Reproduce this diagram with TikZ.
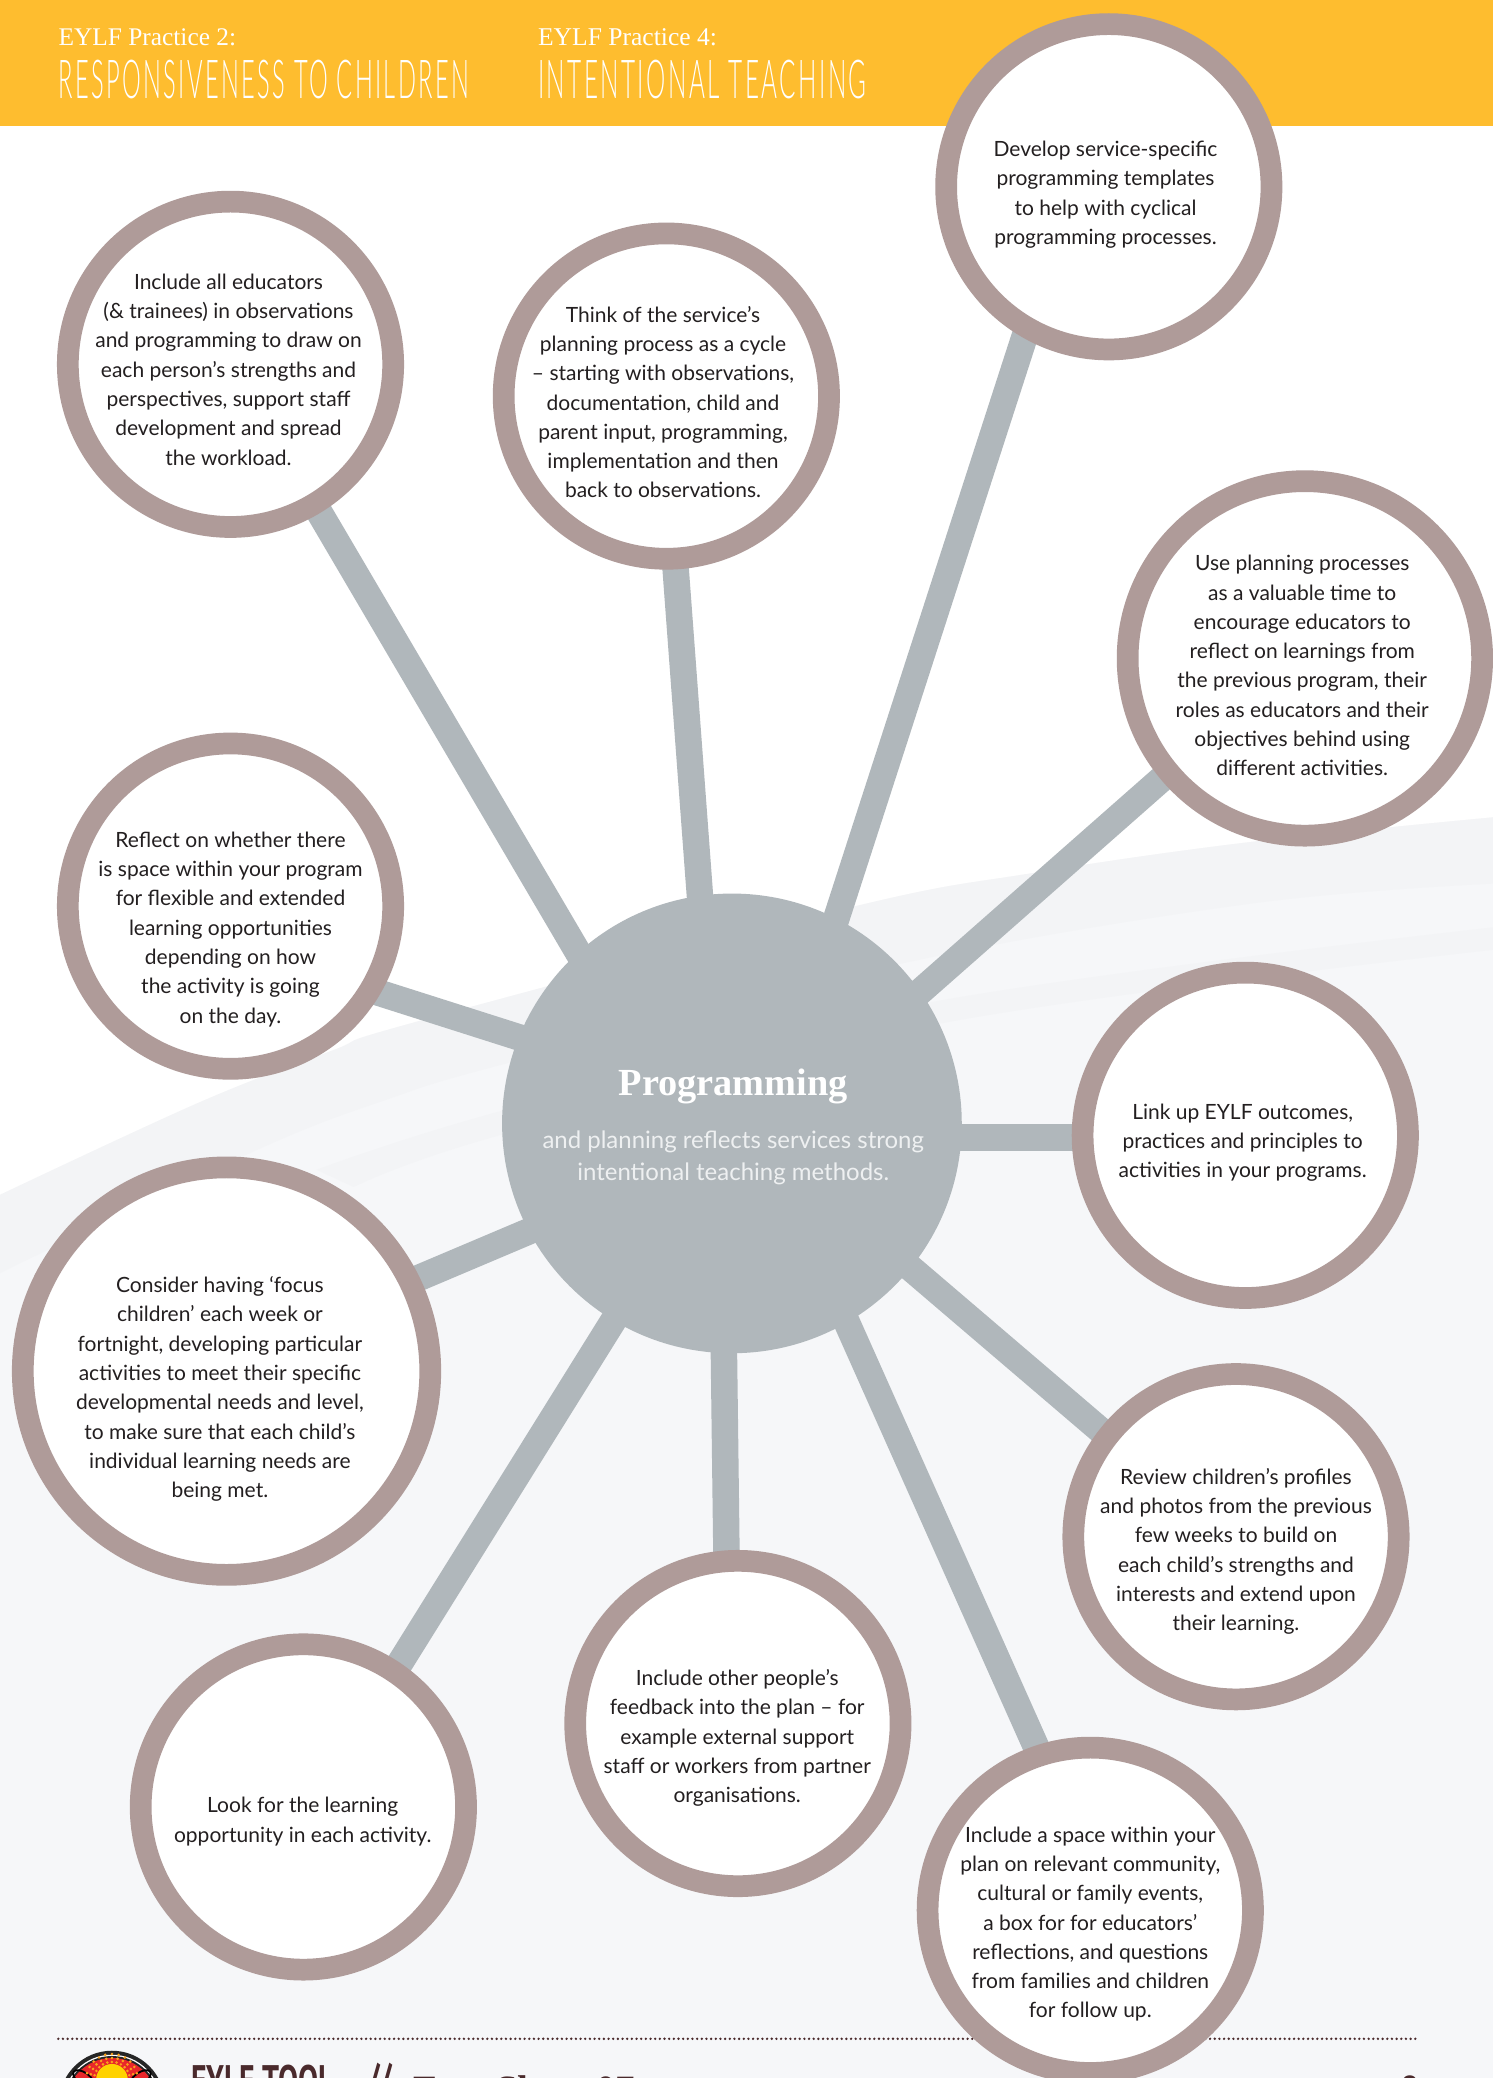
\documentclass[tikz,border=0pt]{standalone}
\usepackage{fontspec}
\usepackage{graphicx}
\setmainfont{Lato}
\newfontfamily\serifhead{Liberation Serif}
\newfontfamily\headsans[UprightFont=* Light,LetterSpace=10]{Lato}
\newfontfamily\footsans{PT Sans}
\usetikzlibrary{backgrounds}
\definecolor{ringc}{HTML}{AF9B99}
\definecolor{hubc}{HTML}{B0B7BB}
\definecolor{orangec}{HTML}{FEBD2F}
\definecolor{paleA}{HTML}{F6F7F9}
\definecolor{paleB}{HTML}{F3F4F6}
\definecolor{ink}{HTML}{231F20}
\definecolor{brownc}{HTML}{4A2A2C}
\definecolor{subc}{HTML}{EEF0F1}
\definecolor{logored}{HTML}{E8262A}
\definecolor{logodot}{HTML}{F9A11B}
\definecolor{logosun}{HTML}{FFD200}
\tikzset{
  x=1pt,y=-1pt,
  ringnode/.style={circle,draw=ringc,fill=white,line width=16.4pt,inner sep=0pt,outer sep=0pt},
  hubnode/.style={circle,fill=hubc,inner sep=0pt,outer sep=0pt,minimum size=347pt},
  spoke/.style={draw=hubc,line width=20pt,line cap=butt,shorten <=-5pt,shorten >=-5pt},
  lab/.style={align=center,inner sep=0pt,text=ink,font=\fontsize{15.85}{22.1}\selectfont},
  sublab/.style={align=center,inner sep=0pt,text=subc,font=\fontsize{18.1}{24}\selectfont},
  headtext/.style={anchor=base west,inner sep=0pt,text=white},
}
\begin{document}
\begin{tikzpicture}
\useasboundingbox (0,0) rectangle (1127,1568.6);
% nodes
\node[hubnode] (hub) at (552.5,848) {};
\node[ringnode,minimum size=245.6pt] (a) at (174,275) {};
\node[ringnode,minimum size=245.6pt] (b) at (503,299) {};
\node[ringnode,minimum size=245.6pt] (c) at (837,141) {};
\node[ringnode,minimum size=267.6pt] (d) at (985,497) {};
\node[ringnode,minimum size=245.6pt] (e) at (940,857) {};
\node[ringnode,minimum size=245.6pt] (f) at (933,1160) {};
\node[ringnode,minimum size=245.6pt] (g) at (823,1442) {};
\node[ringnode,minimum size=245.6pt] (h) at (557,1301) {};
\node[ringnode,minimum size=245.6pt] (i) at (229,1364) {};
\node[ringnode,minimum size=307.6pt] (j) at (171,1035) {};
\node[ringnode,minimum size=245.6pt] (k) at (174,684) {};
\coordinate (spokeE) at (0,858.6);
\begin{scope}[on background layer]
  \fill[white] (0,0) rectangle (1127,1568.6);
  % sweep
  \fill[paleA] plot[smooth,tension=.6] coordinates {(0,902) (151,832) (251,793) (312,772) (642,685) (780,659) (941,636) (1127,617)}
     -- (1127,1568.6) -- (0,1568.6) -- cycle;
  \fill[paleB] plot[smooth,tension=.6] coordinates {(0,902) (151,832) (251,793) (312,772) (642,685) (780,659) (941,636) (1127,617)}
     -- plot[smooth,tension=.6] coordinates {(1127,667) (945,682) (682,727) (385,802) (292,830) (194,868) (0,961)} -- cycle;
  \fill[paleB] plot[smooth,tension=.6] coordinates {(239,883) (377,839) (700,757) (1127,700)}
     -- plot[smooth,tension=.6] coordinates {(1127,717) (713,772) (377,857) (267,896)} -- cycle;
  % header
  \fill[orangec] (0,0) rectangle (1127,95);
  % dotted rule
  \coordinate (ruleL) at (44,1539);
  \coordinate (ruleR) at (1071,1539);
  \draw[brownc,line width=2pt,line cap=round,dash pattern=on 0pt off 3.52pt] (ruleL) -- (ruleR);
  % connectors
  \draw[spoke] (hub.132.7) -- (a.-59.3);
  \draw[spoke] (hub.98.7) -- (b.-87.8);
  \draw[spoke] (hub.63.7) -- (c.-120.4);
  \draw[spoke] (hub.35.2) -- (d.-140.8);
  \draw[spoke] (hub |- spokeE) -- (e |- spokeE);
  \draw[spoke] (hub.-39.1) -- (f.142.2);
  \draw[spoke] (hub.-60.3) -- (g.108.2);
  \draw[spoke] (hub.-92) -- (h.94);
  \draw[spoke] (hub.-121.3) -- (i.56);
  \draw[spoke] (hub.-152.4) -- (j.26.4);
  \draw[spoke] (hub.158.6) -- (k.-31.5);
\end{scope}
% header text
\node[headtext] (h1a) at (44,34) {\resizebox{134pt}{!}{\serifhead EYLF Practice 2:}};
\node[headtext] (h2a) at (406,34) {\resizebox{135pt}{!}{\serifhead EYLF Practice 4:}};
\node[headtext] (h1b) at (44,74) {\resizebox{310pt}{29pt}{\headsans RESPONSIVENESS TO CHILDREN}};
\node[headtext] (h2b) at (406,74) {\resizebox{248pt}{29pt}{\headsans INTENTIONAL TEACHING}};
% hub text
\node[anchor=base,inner sep=0pt,text=white] (ht) at (553.5,827) {\resizebox{173pt}{!}{\serifhead\bfseries Programming}};
\node[sublab] (hs) at (553.5,874) {and planning reflects services strong\\intentional teaching methods.};
% labels
\node[lab] (aT) at (172.5,279) {Include all educators\\(\& trainees) in observations\\and programming to draw on\\each person’s strengths and\\perspectives, support staff\\development and spread\\the workload.};
\node[lab] (bT) at (500.5,303.5) {Think of the service’s\\planning process as a cycle\\– starting with observations,\\documentation, child and\\parent input, programming,\\implementation and then\\back to observations.};
\node[lab] (cT) at (834.5,147) {Develop service-specific\\programming templates\\to help with cyclical\\programming processes.};
\node[lab] (dT) at (983,502.5) {Use planning processes\\as a valuable time to\\encourage educators to\\reflect on learnings from\\the previous program, their\\roles as educators and their\\objectives behind using\\different activities.};
\node[lab] (eT) at (938,862.5) {Link up EYLF outcomes,\\practices and principles to\\activities in your programs.};
\node[lab] (fT) at (933,1171) {Review children’s profiles\\and photos from the previous\\few weeks to build on\\each child’s strengths and\\interests and extend upon\\their learning.};
\node[lab] (gT) at (823,1452.5) {Include a space within your\\plan on relevant community,\\cultural or family events,\\a box for for educators’\\reflections, and questions\\from families and children\\for follow up.};
\node[lab] (hT) at (556.5,1312) {Include other people’s\\feedback into the plan – for\\example external support\\staff or workers from partner\\organisations.};
\node[lab] (iT) at (228.5,1375) {Look for the learning\\opportunity in each activity.};
\node[lab] (jT) at (166,1048.5) {Consider having ‘focus\\children’ each week or\\fortnight, developing particular\\activities to meet their specific\\developmental needs and level,\\to make sure that each child’s\\individual learning needs are\\being met.};
\node[lab] (kT) at (174,701.5) {Reflect on whether there\\is space within your program\\for flexible and extended\\learning opportunities\\depending on how\\the activity is going\\on the day.};
% footer
\begin{scope}
  \clip (0,1500) rectangle (1127,1568.6);
  \fill[black!85] (84.5,1588) circle (40);
  \fill[white] (84.5,1588) circle (37);
  \fill[black!85] (84.5,1588) circle (36);
  \fill[logored] (84.5,1588) circle (34.5);
  \draw[black,line width=1.4pt,rotate around={-35:(63,1569)}] (63,1569) ellipse (9 and 4.5);
  \draw[black,line width=1.4pt,rotate around={35:(106,1569)}] (106,1569) ellipse (9 and 4.5);
  \foreach \ra in {13.5,16.5,19.5}{
    \foreach \an in {0,15,...,345}{
      \fill[logodot] (84.5,1570) ++(\an:\ra) circle (1.1);
    }
  }
  \fill[logosun] (84.5,1570) circle (12);
  \node[anchor=base west,inner sep=0pt,text=brownc] (f1) at (144,1582) {\resizebox{108pt}{23pt}{\footsans\bfseries EYLF TOOL}};
  \node[anchor=base west,inner sep=0pt,text=brownc] (f2) at (277,1583) {\resizebox{19pt}{26pt}{\footsans\bfseries //}};
  \node[anchor=base west,inner sep=0pt,text=brownc] (f3) at (312,1587) {\resizebox{167pt}{!}{\serifhead\bfseries Fact Sheet 07}};
  \node[anchor=base east,inner sep=0pt,text=brownc] (f4) at (1071,1584) {\fontsize{24}{24}\selectfont\footsans\bfseries 8};
\end{scope}
\end{tikzpicture}
\end{document}
